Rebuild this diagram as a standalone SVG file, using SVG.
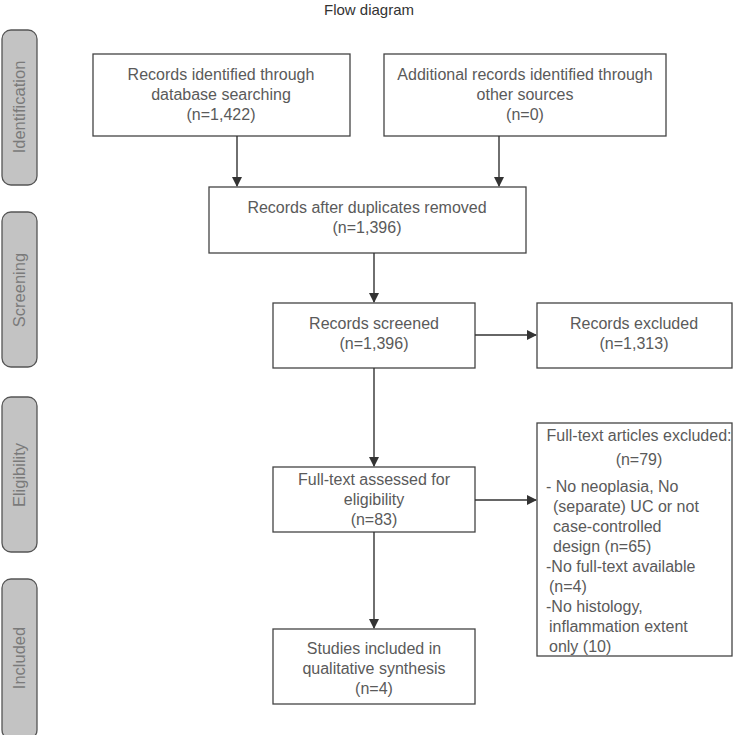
<svg xmlns="http://www.w3.org/2000/svg" width="735" height="735" viewBox="0 0 735 735">
<defs>
<marker id="ah" markerWidth="10" markerHeight="10" refX="9" refY="5" orient="auto" markerUnits="userSpaceOnUse">
<path d="M0,0 L10,5 L0,10 Z" fill="#333"/>
</marker>
<style>
.box{fill:#fff;stroke:#444;stroke-width:1.3}
.side{fill:#c3c3c3;stroke:#555;stroke-width:1.3}
.t{font-family:"Liberation Sans",Arial,sans-serif;font-size:16px;fill:#5a5a5a;text-anchor:middle}
.tl{font-family:"Liberation Sans",Arial,sans-serif;font-size:16px;fill:#5a5a5a}
.st{font-family:"Liberation Sans",Arial,sans-serif;font-size:16.5px;fill:#7a7a7a;text-anchor:middle}
.c{stroke:#333;stroke-width:1.4;fill:none;marker-end:url(#ah)}
</style>
</defs>
<rect width="735" height="735" fill="#fff"/>
<text class="t" x="369" y="15" style="fill:#333;font-size:15px">Flow diagram</text>

<g id="phase-identification"><rect class="side" x="2" y="30" width="35" height="155" rx="9"/><text class="st" transform="translate(25,107) rotate(-90)">Identification</text></g>
<g id="phase-screening"><rect class="side" x="2" y="212" width="35" height="155" rx="9"/><text class="st" transform="translate(25,290) rotate(-90)">Screening</text></g>
<g id="phase-eligibility"><rect class="side" x="2" y="397" width="35" height="155" rx="9"/><text class="st" transform="translate(25,475) rotate(-90)">Eligibility</text></g>
<g id="phase-included"><rect class="side" x="2" y="579" width="35" height="160" rx="9"/><text class="st" transform="translate(25,658) rotate(-90)">Included</text></g>

<g id="n-db"><rect class="box" x="93" y="54" width="257" height="82"/>
<text class="t" x="221" y="80">Records identified through</text><text class="t" x="221" y="100">database searching</text><text class="t" x="221" y="120">(n=1,422)</text></g>
<g id="n-other"><rect class="box" x="384" y="54" width="282" height="82"/>
<text class="t" x="525" y="80">Additional records identified through</text><text class="t" x="525" y="100">other sources</text><text class="t" x="525" y="120">(n=0)</text></g>
<g id="n-dup"><rect class="box" x="209" y="187" width="317" height="66"/>
<text class="t" x="367" y="213">Records after duplicates removed</text><text class="t" x="367" y="233">(n=1,396)</text></g>
<g id="n-screened"><rect class="box" x="273" y="303" width="202" height="65"/>
<text class="t" x="374" y="329">Records screened</text><text class="t" x="374" y="349">(n=1,396)</text></g>
<g id="n-excl"><rect class="box" x="537" y="303" width="195" height="65"/>
<text class="t" x="634" y="329">Records excluded</text><text class="t" x="634" y="349">(n=1,313)</text></g>
<g id="n-full"><rect class="box" x="273" y="467" width="202" height="65"/>
<text class="t" x="374" y="485">Full-text assessed for</text><text class="t" x="374" y="505">eligibility</text><text class="t" x="374" y="525">(n=83)</text></g>
<g id="n-fullexcl"><rect class="box" x="537" y="423" width="195" height="233"/>
<text class="t" x="639" y="441">Full-text articles excluded:</text><text class="t" x="639" y="465">(n=79)</text>
<text class="tl" x="546" y="492">- No neoplasia, No</text>
<text class="tl" x="553" y="512">(separate) UC or not</text>
<text class="tl" x="553" y="532">case-controlled</text>
<text class="tl" x="553" y="552">design (n=65)</text>
<text class="tl" x="546" y="572">-No full-text available</text>
<text class="tl" x="549" y="592">(n=4)</text>
<text class="tl" x="546" y="612">-No histology,</text>
<text class="tl" x="549" y="632">inflammation extent</text>
<text class="tl" x="549" y="652">only (10)</text></g>
<g id="n-incl"><rect class="box" x="273" y="629" width="202" height="75"/>
<text class="t" x="374" y="654">Studies included in</text><text class="t" x="374" y="674">qualitative synthesis</text><text class="t" x="374" y="694">(n=4)</text></g>

<g id="connectors">
<line class="c" x1="237" y1="136" x2="237" y2="186"/>
<line class="c" x1="499" y1="136" x2="499" y2="186"/>
<line class="c" x1="374" y1="253" x2="374" y2="302"/>
<line class="c" x1="475" y1="335" x2="536" y2="335"/>
<line class="c" x1="374" y1="368" x2="374" y2="466"/>
<line class="c" x1="475" y1="500" x2="536" y2="500"/>
<line class="c" x1="374" y1="532" x2="374" y2="628"/>
</g>
</svg>
